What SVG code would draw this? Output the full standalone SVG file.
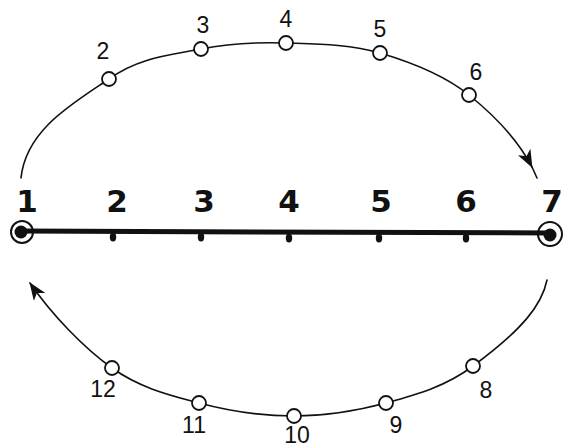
<svg xmlns="http://www.w3.org/2000/svg" width="566" height="448" viewBox="0 0 566 448">
<style>
.arc{fill:none;stroke:#111;stroke-width:1.6;stroke-linecap:round}
.st{fill:#fff;stroke:#111;stroke-width:1.8}
.sl{font-family:"Liberation Sans",Arial,sans-serif;font-size:23px;fill:#111;text-anchor:middle}
.bl{font-family:"DejaVu Sans",sans-serif;font-size:31px;font-weight:bold;fill:#111;text-anchor:middle}
.tick{fill:#111}
</style>
<defs>
<marker id="ah" markerUnits="userSpaceOnUse" markerWidth="18" markerHeight="14" viewBox="0 0 18 14" refX="17" refY="7" orient="auto">
<path d="M0,0 L18,7 L0,14 L5,7 z" fill="#111"/>
</marker>
</defs>
<rect width="566" height="448" fill="#fff"/>
<g id="connectors">
<path class="arc" marker-end="url(#ah)" d="M21,178 C26,130 72,104 109,79 C139,57 171.5,55 201,49 C230.5,43 256,42 286,43 C316,44 349.5,44 380,53 C410.5,62 443,74 469,95 C495,116 518,140 532,167"/>
<path class="arc" d="M532,167 L537,178"/>
<path class="arc" marker-end="url(#ah)" d="M547,280 C542,305 522,330 473,366 C446,386.5 416,394.7 386,403 C356,411 325,416 294,416 C263,416 229,411 199,403 C169,395 140,388 112,368 C84,348 52,315 30,283"/>
<path id="axis" d="M21,231 L549,233" fill="none" stroke="#111" stroke-width="5" stroke-linecap="round"/>
</g>
<g id="t2"><circle class="st" cx="109" cy="79" r="7"/><text class="sl" x="103" y="59">2</text></g>
<g id="t3"><circle class="st" cx="201" cy="49" r="7"/><text class="sl" x="203" y="33">3</text></g>
<g id="t4"><circle class="st" cx="286" cy="43" r="7"/><text class="sl" x="286" y="27">4</text></g>
<g id="t5"><circle class="st" cx="380" cy="53" r="7"/><text class="sl" x="380" y="37">5</text></g>
<g id="t6"><circle class="st" cx="469" cy="95" r="7"/><text class="sl" x="476" y="80">6</text></g>
<g id="b8"><circle class="st" cx="473" cy="366" r="7"/><text class="sl" x="486" y="398">8</text></g>
<g id="b9"><circle class="st" cx="386" cy="403" r="7"/><text class="sl" x="396" y="433">9</text></g>
<g id="b10"><circle class="st" cx="294" cy="416" r="7"/><text class="sl" x="297" y="443">10</text></g>
<g id="b11"><circle class="st" cx="199" cy="403" r="7"/><text class="sl" x="194" y="433">11</text></g>
<g id="b12"><circle class="st" cx="112" cy="368" r="7"/><text class="sl" x="103" y="397">12</text></g>
<g id="a1"><circle cx="22" cy="232" r="11" fill="none" stroke="#111" stroke-width="2"/><circle cx="21" cy="232" r="6.5" fill="#111"/><text class="bl" x="27" y="212">1</text></g>
<g id="a2"><ellipse class="tick" cx="113" cy="237" rx="3.2" ry="4.5"/><text class="bl" x="117" y="212">2</text></g>
<g id="a3"><ellipse class="tick" cx="201" cy="237" rx="3.2" ry="4.5"/><text class="bl" x="204" y="212">3</text></g>
<g id="a4"><ellipse class="tick" cx="289" cy="238" rx="3.2" ry="4.5"/><text class="bl" x="289" y="212">4</text></g>
<g id="a5"><ellipse class="tick" cx="379" cy="238" rx="3.2" ry="4.5"/><text class="bl" x="381" y="212">5</text></g>
<g id="a6"><ellipse class="tick" cx="466" cy="238" rx="3.2" ry="4.5"/><text class="bl" x="466" y="212">6</text></g>
<g id="a7"><circle cx="550" cy="234" r="12" fill="none" stroke="#111" stroke-width="2"/><circle cx="550" cy="235" r="6.5" fill="#111"/><text class="bl" x="552" y="212">7</text></g>
</svg>
